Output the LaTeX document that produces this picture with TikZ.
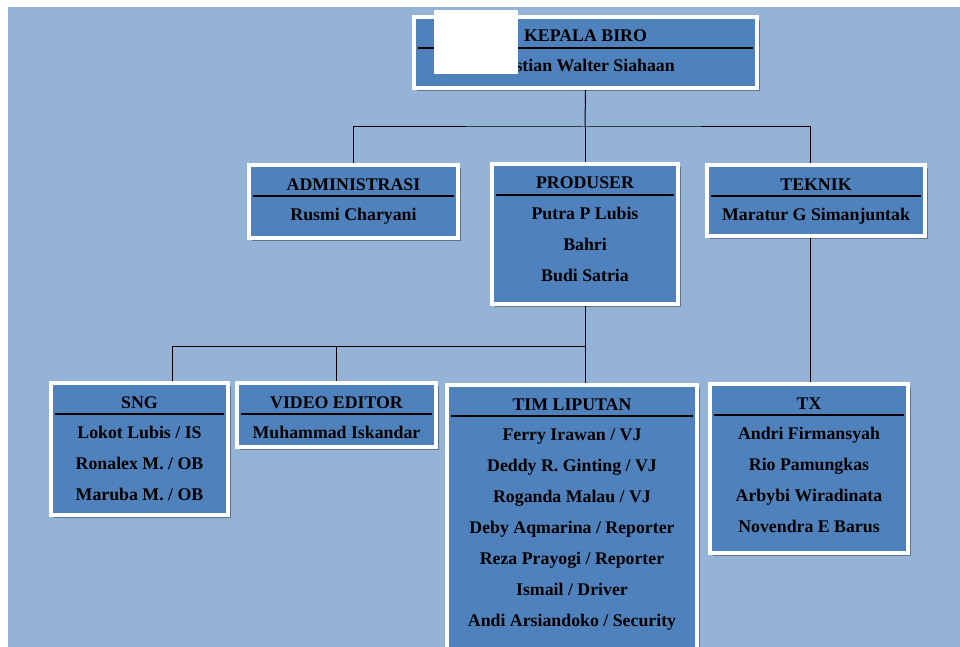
\documentclass[tikz,border=0pt]{standalone}
\usepackage{fontspec}
\setmainfont{Liberation Serif}
\usetikzlibrary{calc,shadows,backgrounds}
\definecolor{pagebg}{RGB}{149,179,215}
\definecolor{boxblue}{RGB}{79,129,189}
\tikzset{
  unitbox/.style 2 args={rectangle,draw=white,line width=4pt,fill=boxblue,inner sep=0pt,
    minimum width=#1,minimum height=#2,
    drop shadow={shadow xshift=3pt,shadow yshift=-3pt,fill=black,opacity=0.35}},
  unittext/.style={font=\bfseries\fontsize{17.8}{20}\selectfont,inner sep=0pt,anchor=base},
  wire/.style={draw=black,line width=1pt}
}
\def\unittitle#1#2{\node[unittext] (#1-title) at ($(#1.north)+(0,27)$) {#2};
  \draw[line width=1.5pt] ($(#1.north west)+(6,33)$) -- ($(#1.north east)+(-6,33)$);}
\def\unitnames#1#2{\foreach \who [count=\i] in {#2}
  \node[unittext] (#1-\i) at ($(#1.north)+(0,{57+31*(\i-1)})$) {\who};}

\begin{document}
\begin{tikzpicture}[x=1pt,y=-1pt]
\useasboundingbox (0,0) rectangle (960,647);
\node[unitbox={343pt}{71pt}] (kepala) at (585.5,52.5) {};
\node[unitbox={209pt}{73pt}] (admin) at (353.5,201.5) {};
\node[unitbox={186pt}{140pt}] (produser) at (585,234) {};
\node[unitbox={218pt}{71pt}] (teknik) at (816,200.5) {};
\node[unitbox={177pt}{132pt}] (sng) at (139.5,449) {};
\node[unitbox={199pt}{64pt}] (video) at (336.5,415) {};
\node[unitbox={250pt}{273pt}] (tim) at (572,521.5) {};
\node[unitbox={198pt}{169pt}] (tx) at (809,468.5) {};

\unittitle{kepala}{KEPALA BIRO}
\node[unittext,anchor=base east] (kepala-1) at ($(kepala.north)+(89.5,57)$) {stian Walter Siahaan};
\unittitle{admin}{ADMINISTRASI}
\unitnames{admin}{Rusmi Charyani}
\unittitle{produser}{PRODUSER}
\unitnames{produser}{Putra P Lubis,Bahri,Budi Satria}
\unittitle{teknik}{TEKNIK}
\unitnames{teknik}{Maratur G Simanjuntak}
\unittitle{sng}{SNG}
\unitnames{sng}{Lokot Lubis / IS,Ronalex M. / OB,Maruba M. / OB}
\unittitle{video}{VIDEO EDITOR}
\unitnames{video}{Muhammad Iskandar}
\unittitle{tim}{TIM LIPUTAN}
\unitnames{tim}{Ferry Irawan / VJ,Deddy R. Ginting / VJ,Roganda Malau / VJ,Deby Aqmarina / Reporter,Reza Prayogi / Reporter,Ismail / Driver,Andi Arsiandoko / Security}
\unittitle{tx}{TX}
\unitnames{tx}{Andri Firmansyah,Rio Pamungkas,Arbybi Wiradinata,Novendra E Barus}

\begin{scope}[on background layer]
\fill[pagebg] (8,7) rectangle (960,647);
\coordinate (bus1) at (585,127);
\coordinate (bus2) at (585,346);
\draw[wire] (kepala.south) -- (bus1);
\draw[wire] (admin.north) |- (bus1) -| ([xshift=-6pt]teknik.north);
\draw[wire] (bus1) -- (produser.north);
\draw[wire] (produser.south) -- (bus2);
\draw[wire] ([xshift=32.5pt]sng.north) |- (bus2) -- ([xshift=13pt]tim.north);
\draw[wire] (video.north) -- (video.north |- bus2);
\draw[wire] ([xshift=-6pt]teknik.south) -- ([xshift=1pt]tx.north);
\end{scope}

\fill[white] (434,10) rectangle (518,74);
\end{tikzpicture}
\end{document}
